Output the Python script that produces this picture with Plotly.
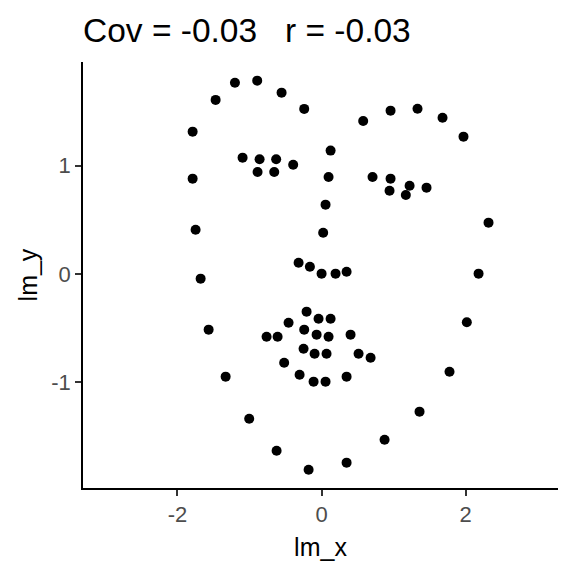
import plotly.graph_objects as go

lm_x = [-1.789, -1.470, -1.202, -0.893, -0.555, -0.241, -1.789, -1.748, -1.678, -1.567,
        -1.331, -1.004, -0.624, -0.180, 0.347, 0.874, 1.359, 1.775, 2.015, 2.178,
        2.316, 1.969, 1.678, 1.331, 0.957, 0.577,
        0.125, 0.097, 0.055, 0.022, -0.319, -0.162, 0.000, 0.194, 0.347,
        -1.096, -0.860, -0.630, -0.394, -0.888, -0.657,
        0.707, 0.957, 1.221, 1.456, 0.943, 1.169,
        -0.208, -0.042, 0.125, -0.458, -0.241, -0.069, 0.097, 0.402, -0.763, -0.610,
        -0.250, -0.097, 0.069, 0.513, 0.680, -0.519, -0.305, -0.111, 0.055, 0.347]
lm_y = [1.314, 1.607, 1.766, 1.785, 1.674, 1.524, 0.880, 0.409, -0.043, -0.514,
        -0.948, -1.336, -1.632, -1.807, -1.742, -1.530, -1.271, -0.902, -0.446, 0.003,
        0.474, 1.268, 1.443, 1.526, 1.508, 1.413,
        1.139, 0.896, 0.640, 0.381, 0.104, 0.067, 0.003, 0.003, 0.021,
        1.074, 1.059, 1.059, 1.009, 0.942, 0.942,
        0.896, 0.880, 0.815, 0.797, 0.769, 0.729,
        -0.348, -0.413, -0.413, -0.450, -0.514, -0.560, -0.579, -0.560, -0.579, -0.579,
        -0.690, -0.736, -0.736, -0.736, -0.773, -0.819, -0.930, -0.994, -0.994, -0.948]

x_ticks = [-2, 0, 2]
y_ticks = [-1, 0, 1]
title_text = "Cov = -0.03   r = -0.03"

fig = go.Figure(go.Scatter(x=lm_x, y=lm_y, mode="markers",
                           marker=dict(color="black", size=10)))

tick_font = dict(family="Liberation Sans", size=22, color="#4D4D4D")
axis_title_font = dict(family="Liberation Sans", size=25, color="black")

axis_common = dict(showgrid=False, zeroline=False, showline=True, linecolor="black",
                   linewidth=1.6, ticks="outside", ticklen=6, tickcolor="#333333",
                   tickwidth=1.6, tickfont=tick_font)

fig.update_layout(
    width=576, height=576,
    margin=dict(l=83, r=18, t=62, b=88),
    plot_bgcolor="white", paper_bgcolor="white",
    showlegend=False,
    font=dict(family="Liberation Sans", size=18, color="#4D4D4D"),
    modebar=dict(bgcolor="rgba(0,0,0,0)", color="rgba(0,0,0,0)", activecolor="rgba(0,0,0,0)"),
    title=dict(text=title_text, x=0, xref="paper", xanchor="left",
               y=1 - 30 / 576, yref="container", yanchor="middle",
               font=dict(family="Liberation Sans", size=33.5, color="black")),
    xaxis=dict(range=[-3.31, 3.28], tickvals=x_ticks, ticktext=[str(v) for v in x_ticks],
               title=dict(text="lm_x", standoff=12, font=axis_title_font),
               automargin=False, **axis_common),
    yaxis=dict(range=[-1.976, 1.957], tickvals=y_ticks, ticktext=[str(v) for v in y_ticks],
               title=dict(text="lm_y", standoff=6, font=axis_title_font),
               automargin=False, **axis_common),
)

fig.write_html("out.html", config={"displaylogo": False},
               post_script="document.body.style.margin='0px';")
